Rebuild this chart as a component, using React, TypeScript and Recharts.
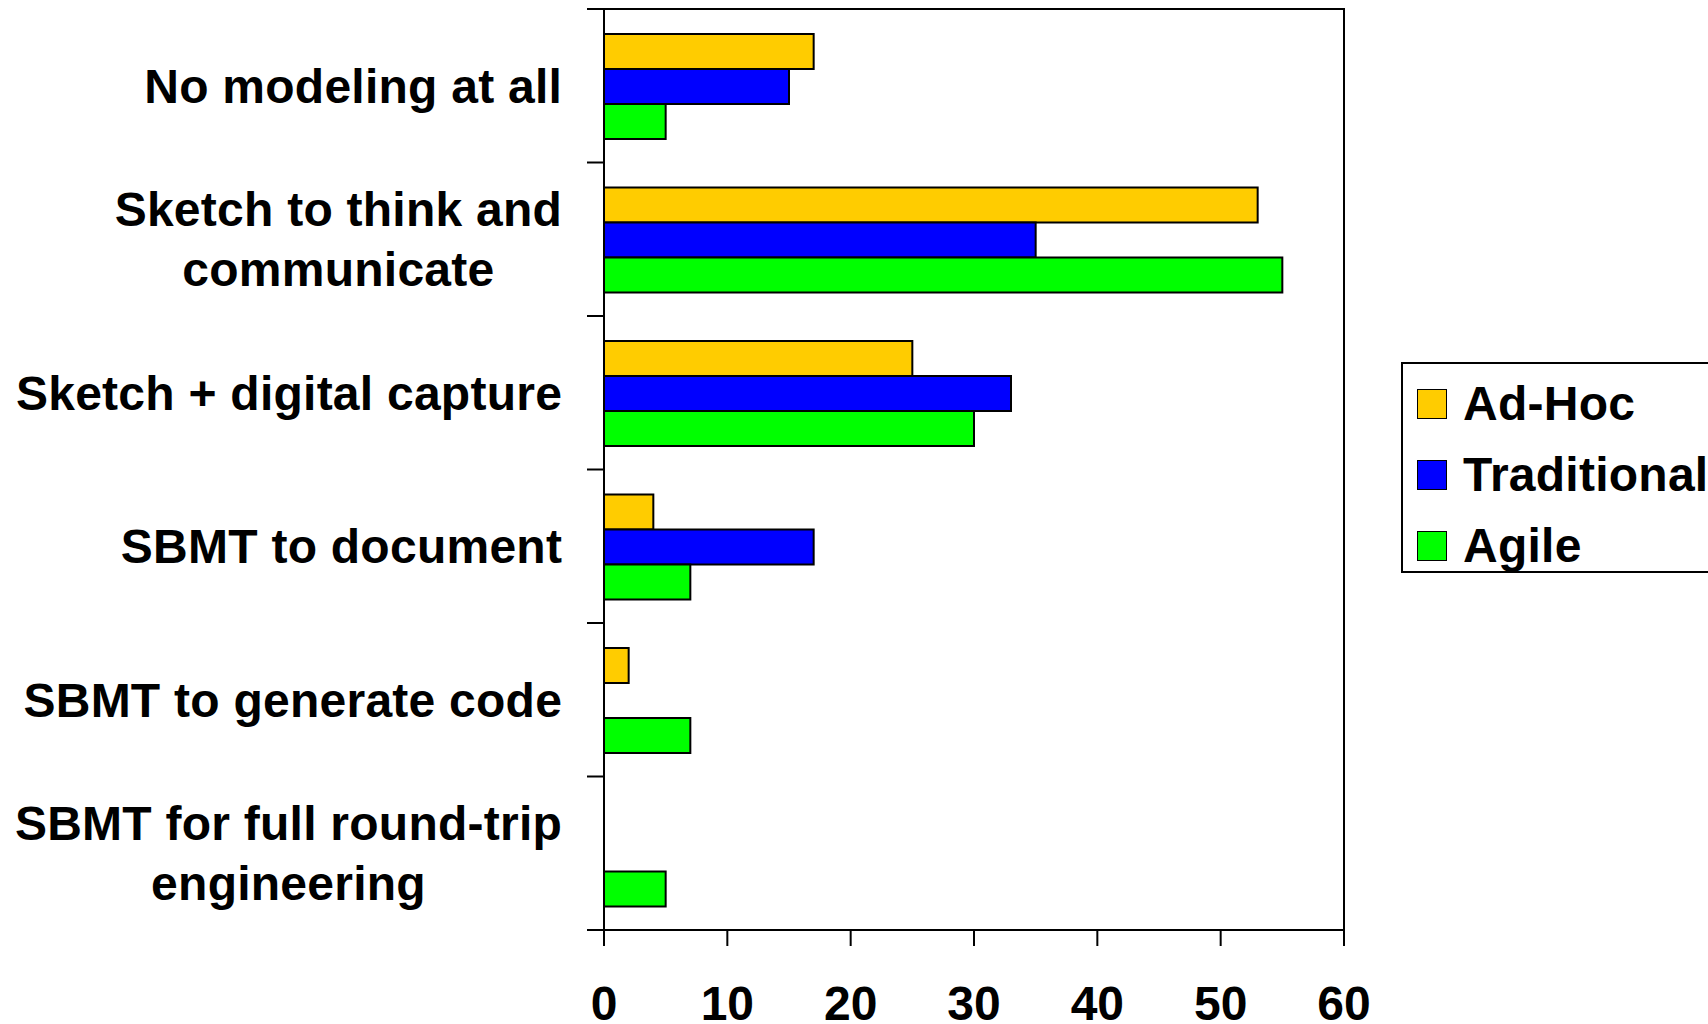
import {
  BarChart, Bar, XAxis, YAxis, Legend, ReferenceArea,
} from 'recharts'

const CATEGORIES = [
  'No modeling at all',
  'Sketch to think and\ncommunicate',
  'Sketch + digital capture',
  'SBMT to document',
  'SBMT to generate code',
  'SBMT for full round-trip\nengineering',
]
const AD_HOC = [17, 53, 25, 4, 2, 0]
const TRADITIONAL = [15, 35, 33, 17, 0, 0]
const AGILE = [5, 55, 30, 7, 7, 5]
const X_TICKS = [0, 10, 20, 30, 40, 50, 60]

const SERIES = [
  { key: 'adHoc', name: 'Ad-Hoc', color: '#FFCC00' },
  { key: 'traditional', name: 'Traditional', color: '#0000FF' },
  { key: 'agile', name: 'Agile', color: '#00FF00' },
]

const data = CATEGORIES.map((label, i) => ({
  label,
  adHoc: AD_HOC[i],
  traditional: TRADITIONAL[i],
  agile: AGILE[i],
}))

const W = 1708
const H = 1024
const FONT = "'Liberation Sans', Arial, Helvetica, sans-serif"
const FONT_SIZE = 48
const SPACING = 0.25
const PLOT_LEFT = 604
const MARGIN = { top: 9, right: 364, bottom: 0, left: 0 }
const X_AXIS_H = 94
const BAND = (H - MARGIN.top - MARGIN.bottom - X_AXIS_H) / CATEGORIES.length
const LABEL_RIGHT = 562
const LINE_H = 60

let ctx: CanvasRenderingContext2D | null = null
function measure(text: string) {
  if (!ctx) ctx = document.createElement('canvas').getContext('2d')
  if (!ctx) return text.length * FONT_SIZE * 0.55
  ctx.font = `bold ${FONT_SIZE}px ${FONT}`
  return ctx.measureText(text).width + SPACING * (text.length - 1)
}

function CategoryTick({ y, payload, index }: any) {
  const lines = String(payload.value).split('\n')
  const maxW = Math.max(...lines.map(measure))
  const cx = LABEL_RIGHT - maxW / 2
  const n = lines.length
  return (
    <g>
      <line x1={PLOT_LEFT - 17} x2={PLOT_LEFT} y1={y - BAND / 2} y2={y - BAND / 2} stroke="#000" strokeWidth={2} />
      {index === CATEGORIES.length - 1 && (
        <line x1={PLOT_LEFT - 17} x2={PLOT_LEFT} y1={y + BAND / 2} y2={y + BAND / 2} stroke="#000" strokeWidth={2} />
      )}
      <text textAnchor="middle" fontFamily={FONT} fontSize={FONT_SIZE} fontWeight="bold"
        letterSpacing={SPACING} fill="#000">
        {lines.map((line, i) => (
          <tspan key={i} x={cx} y={y + 17 + (i - (n - 1) / 2) * LINE_H}>{line}</tspan>
        ))}
      </text>
    </g>
  )
}

function LegendBox() {
  return (
    <div style={{
      boxSizing: 'border-box', width: 330, height: 211, border: '2px solid #000',
      background: '#fff', paddingTop: 4, paddingLeft: 14,
    }}>
      {SERIES.map(s => (
        <div key={s.key} style={{ display: 'flex', alignItems: 'center', height: 71 }}>
          <div style={{
            boxSizing: 'border-box', width: 30, height: 30, background: s.color,
            border: '1.5px solid #000', marginRight: 16, flexShrink: 0,
          }} />
          <span style={{
            fontFamily: FONT, fontWeight: 'bold', fontSize: FONT_SIZE, color: '#000',
            letterSpacing: SPACING, lineHeight: 1, whiteSpace: 'nowrap',
          }}>{s.name}</span>
        </div>
      ))}
    </div>
  )
}

export default function App() {
  return (
    <div style={{
      position: 'absolute', left: 0, top: 0, width: W, height: H,
      overflow: 'hidden', background: '#fff',
    }}>
      <BarChart
        width={W}
        height={H}
        data={data}
        layout="vertical"
        margin={MARGIN}
        barCategoryGap={25}
        barGap={0}
      >
        <XAxis
          type="number"
          domain={[0, 60]}
          ticks={X_TICKS}
          interval={0}
          height={X_AXIS_H}
          axisLine={{ stroke: '#000', strokeWidth: 2 }}
          tickLine={{ stroke: '#000', strokeWidth: 2 }}
          tickSize={16}
          tickMargin={40}
          tick={{ fontFamily: FONT, fontSize: FONT_SIZE, fontWeight: 'bold', fill: '#000' }}
        />
        <YAxis
          type="category"
          dataKey="label"
          width={PLOT_LEFT}
          interval={0}
          axisLine={{ stroke: '#000', strokeWidth: 2 }}
          tickLine={false}
          tick={<CategoryTick />}
        />
        <Legend
          layout="vertical"
          align="center"
          verticalAlign="middle"
          content={<LegendBox />}
          wrapperStyle={{ left: 1401, top: 362, width: 330 }}
        />
        {SERIES.map(s => (
          <Bar
            key={s.key}
            dataKey={s.key}
            name={s.name}
            fill={s.color}
            stroke="#000"
            strokeWidth={2}
            isAnimationActive={false}
          />
        ))}
        <ReferenceArea x1={0} x2={60} fill="none" stroke="#000" strokeWidth={2} ifOverflow="visible" />
      </BarChart>
    </div>
  )
}
